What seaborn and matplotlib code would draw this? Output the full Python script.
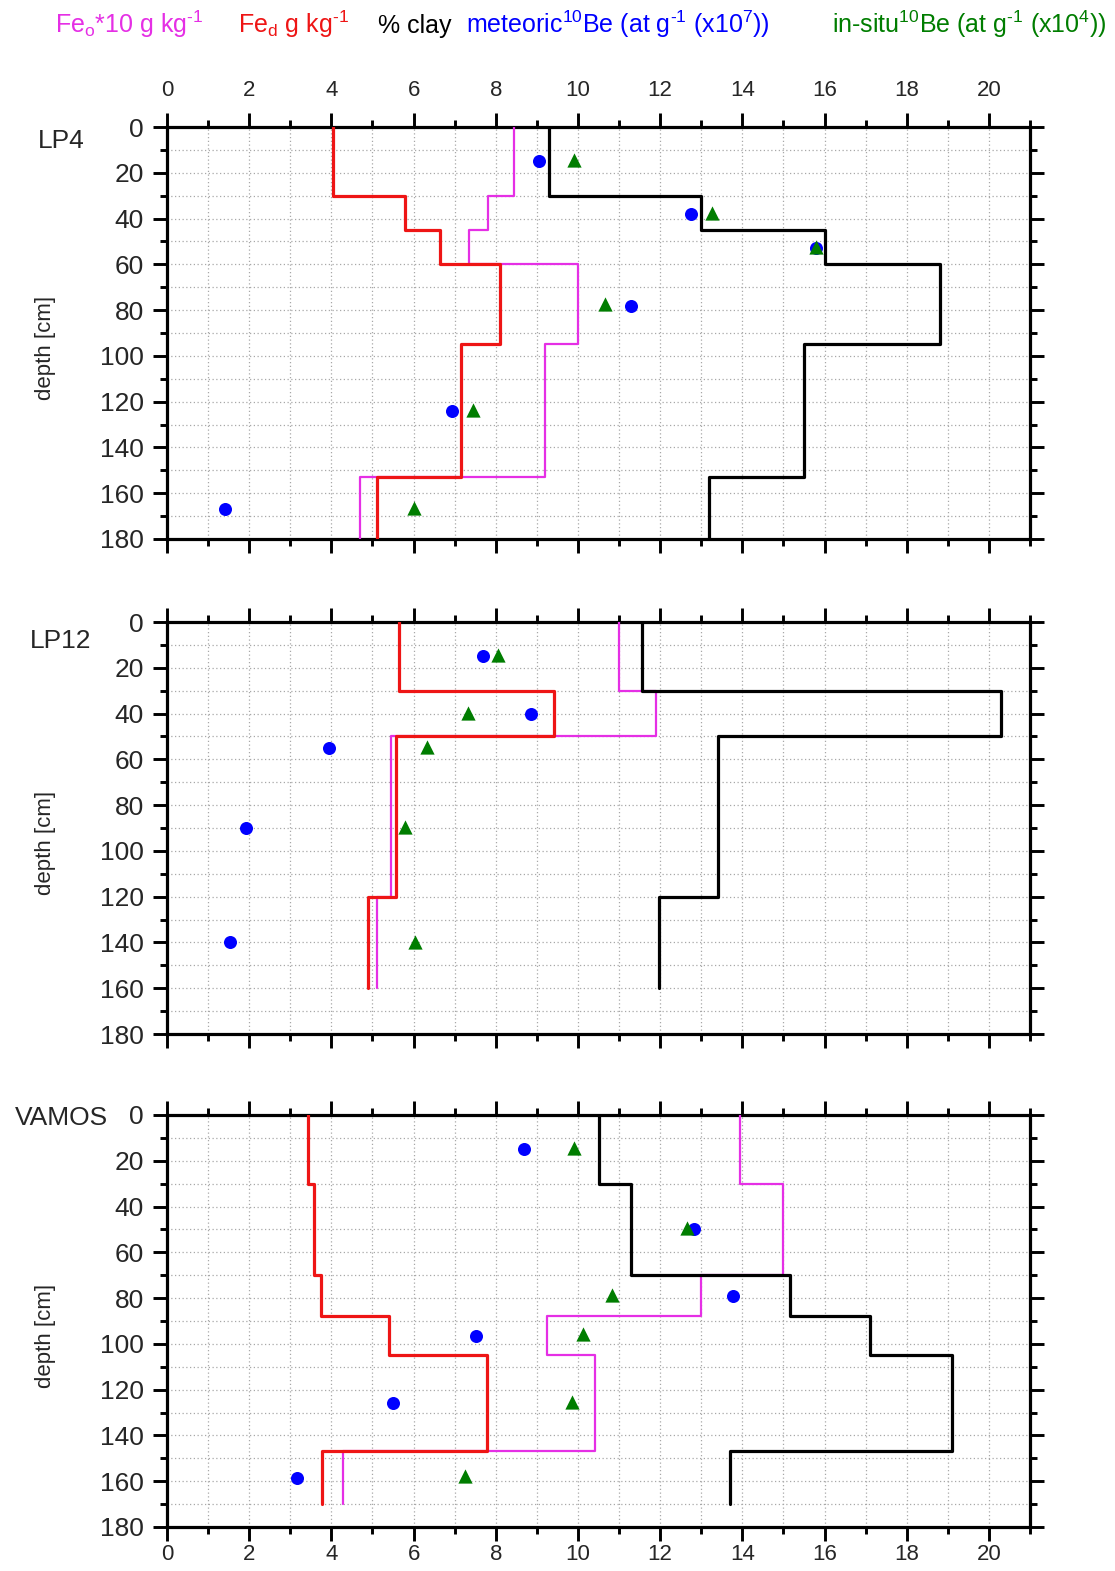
import numpy as np
import pandas as pd
import matplotlib
matplotlib.use("Agg")
import matplotlib.pyplot as plt
from matplotlib.ticker import MultipleLocator
import seaborn as sns

# ---------------- data ----------------
panels = ["LP4", "LP12", "VAMOS"]

# horizon boundaries (cm)
lp4_depth = [0, 30, 45, 60, 95, 153, 180]
lp4_feo = [8.45, 7.8, 7.35, 10.0, 9.2, 4.7]
lp4_fed = [4.05, 5.8, 6.65, 8.1, 7.15, 5.1]
lp4_clay = [9.3, 13.0, 16.0, 18.8, 15.5, 13.2]
lp4_met_x = [9.05, 12.75, 15.8, 11.3, 6.93, 1.42]
lp4_met_d = [14.8, 37.8, 53.0, 78.0, 124.0, 166.8]
lp4_ins_x = [9.9, 13.25, 15.8, 10.65, 7.45, 6.0]
lp4_ins_d = [14.5, 37.5, 52.5, 77.5, 123.5, 166.3]

lp12_depth = [0, 30, 50, 120, 160]
lp12_feo = [11.0, 11.9, 5.45, 5.1]
lp12_fed = [5.65, 9.42, 5.58, 4.88]
lp12_clay = [11.55, 20.3, 13.4, 11.97]
lp12_met_x = [7.7, 8.86, 3.93, 1.92, 1.53]
lp12_met_d = [15.0, 40.0, 55.0, 90.0, 140.0]
lp12_ins_x = [8.06, 7.32, 6.33, 5.79, 6.04]
lp12_ins_d = [14.5, 39.7, 54.7, 89.4, 139.6]

vamos_depth = [0, 30, 70, 88, 105, 147, 170]
vamos_feo = [13.95, 15.0, 13.0, 9.25, 10.42, 4.28]
vamos_fed = [3.44, 3.58, 3.74, 5.4, 7.78, 3.77]
vamos_clay = [10.5, 11.3, 15.17, 17.1, 19.1, 13.7]
vamos_met_x = [8.68, 12.82, 13.78, 7.53, 5.51, 3.16]
vamos_met_d = [14.9, 50.0, 79.2, 96.5, 125.8, 158.5]
vamos_ins_x = [9.91, 12.65, 10.83, 10.13, 9.85, 7.24]
vamos_ins_d = [14.2, 49.3, 78.8, 95.8, 125.2, 157.7]

x_ticks = [0, 2, 4, 6, 8, 10, 12, 14, 16, 18, 20]
y_ticks = [0, 20, 40, 60, 80, 100, 120, 140, 160, 180]

legend_labels = [
    r"Fe$_\mathregular{o}$*10 g kg$^\text{-1}$",
    r"Fe$_\mathregular{d}$ g kg$^\text{-1}$",
    r"% clay",
    r"meteoric$^\mathregular{10}$Be (at g$^\text{-1}$ (x10$^\mathregular{7}$))",
    r"in-situ$^\mathregular{10}$Be (at g$^\text{-1}$ (x10$^\mathregular{4}$))",
]

# ---------------- style ----------------
C_FEO = "#e52fe5"
C_FED = "#ee1515"
C_CLAY = "#000000"
C_MET = "#0000ff"
C_INS = "#007d00"

sns.set_style("ticks")
plt.rcParams["font.family"] = ["Liberation Sans", "DejaVu Sans"]
plt.rcParams["mathtext.fontset"] = "custom"
plt.rcParams["mathtext.rm"] = "Liberation Sans"
plt.rcParams["mathtext.it"] = "Liberation Sans:italic"
plt.rcParams["mathtext.bf"] = "Liberation Sans:bold"

W, H = 1115, 1571
fig = plt.figure(figsize=(W / 100, H / 100), dpi=100)


def step_profile(bounds, values):
    xs, ys = [], []
    for top, bot, v in zip(bounds[:-1], bounds[1:], values):
        xs += [v, v]
        ys += [top, bot]
    return pd.DataFrame({"x": xs, "depth": ys})


data = [
    (lp4_depth, lp4_feo, lp4_fed, lp4_clay, lp4_met_x, lp4_met_d, lp4_ins_x, lp4_ins_d),
    (lp12_depth, lp12_feo, lp12_fed, lp12_clay, lp12_met_x, lp12_met_d, lp12_ins_x, lp12_ins_d),
    (vamos_depth, vamos_feo, vamos_fed, vamos_clay, vamos_met_x, vamos_met_d, vamos_ins_x, vamos_ins_d),
]

left_px, right_px = 167, 1030
tops_px = [127, 622, 1115]
ph = 412

for i, (name, d) in enumerate(zip(panels, data)):
    depth, feo, fed, clay, mx, md, ix, idd = d
    top = tops_px[i]
    ax = fig.add_axes([left_px / W, 1 - (top + ph) / H, (right_px - left_px) / W, ph / H])

    for vals, col, lw, z in [(feo, C_FEO, 1.6, 3), (fed, C_FED, 2.3, 4), (clay, C_CLAY, 2.3, 5)]:
        df = step_profile(depth, vals)
        sns.lineplot(data=df, x="x", y="depth", sort=False, estimator=None,
                     color=col, lw=lw, ax=ax, zorder=z, legend=False)

    sns.scatterplot(x=mx, y=md, color=C_MET, marker="o", s=88, linewidth=0,
                    ax=ax, zorder=6, legend=False)
    sns.scatterplot(x=ix, y=idd, color=C_INS, marker="^", s=105, linewidth=0,
                    ax=ax, zorder=7, legend=False)

    ax.set_xlim(0, 21)
    ax.set_ylim(180, 0)
    ax.set_xticks(x_ticks)
    ax.set_yticks(y_ticks)
    ax.xaxis.set_minor_locator(MultipleLocator(1))
    ax.yaxis.set_minor_locator(MultipleLocator(10))
    ax.set_xlabel("")
    ax.set_ylabel("")

    ax.grid(True, which="both", color="#a8a8a8", linestyle=(0, (1, 2)), linewidth=0.9)
    ax.set_axisbelow(True)

    for sp in ax.spines.values():
        sp.set_linewidth(2.3)
        sp.set_color("black")
        sp.set_visible(True)

    ax.tick_params(which="both", direction="out", top=True, bottom=True,
                   left=True, right=True, width=2.1, color="black")
    ax.tick_params(which="major", length=9.8)
    ax.tick_params(which="minor", length=5.2)
    ax.tick_params(axis="y", labelsize=19, pad=7, labelleft=True, labelright=False)
    ax.tick_params(axis="x", labelsize=16,
                   labeltop=(i == 0), labelbottom=(i == 2),
                   pad=9 if i == 0 else 2.3)

    # panel label
    lab_y = [141, 641, 1118][i]
    fig.text(61 / W, 1 - lab_y / H, name, fontsize=19, ha="center", va="center")
    # y axis label
    fig.text(46 / W, 1 - (top + ph / 2 + 15) / H, "depth [cm]", fontsize=16,
             rotation=90, ha="center", va="center")

# legend row
leg_x = [55, 238, 378, 466, 832]
leg_c = [C_FEO, C_FED, C_CLAY, C_MET, C_INS]
for lx, lab, col in zip(leg_x, legend_labels, leg_c):
    fig.text(lx / W, 1 - 33 / H, lab, color=col, fontsize=18, ha="left", va="baseline")

fig.savefig("out.png", dpi=100)
